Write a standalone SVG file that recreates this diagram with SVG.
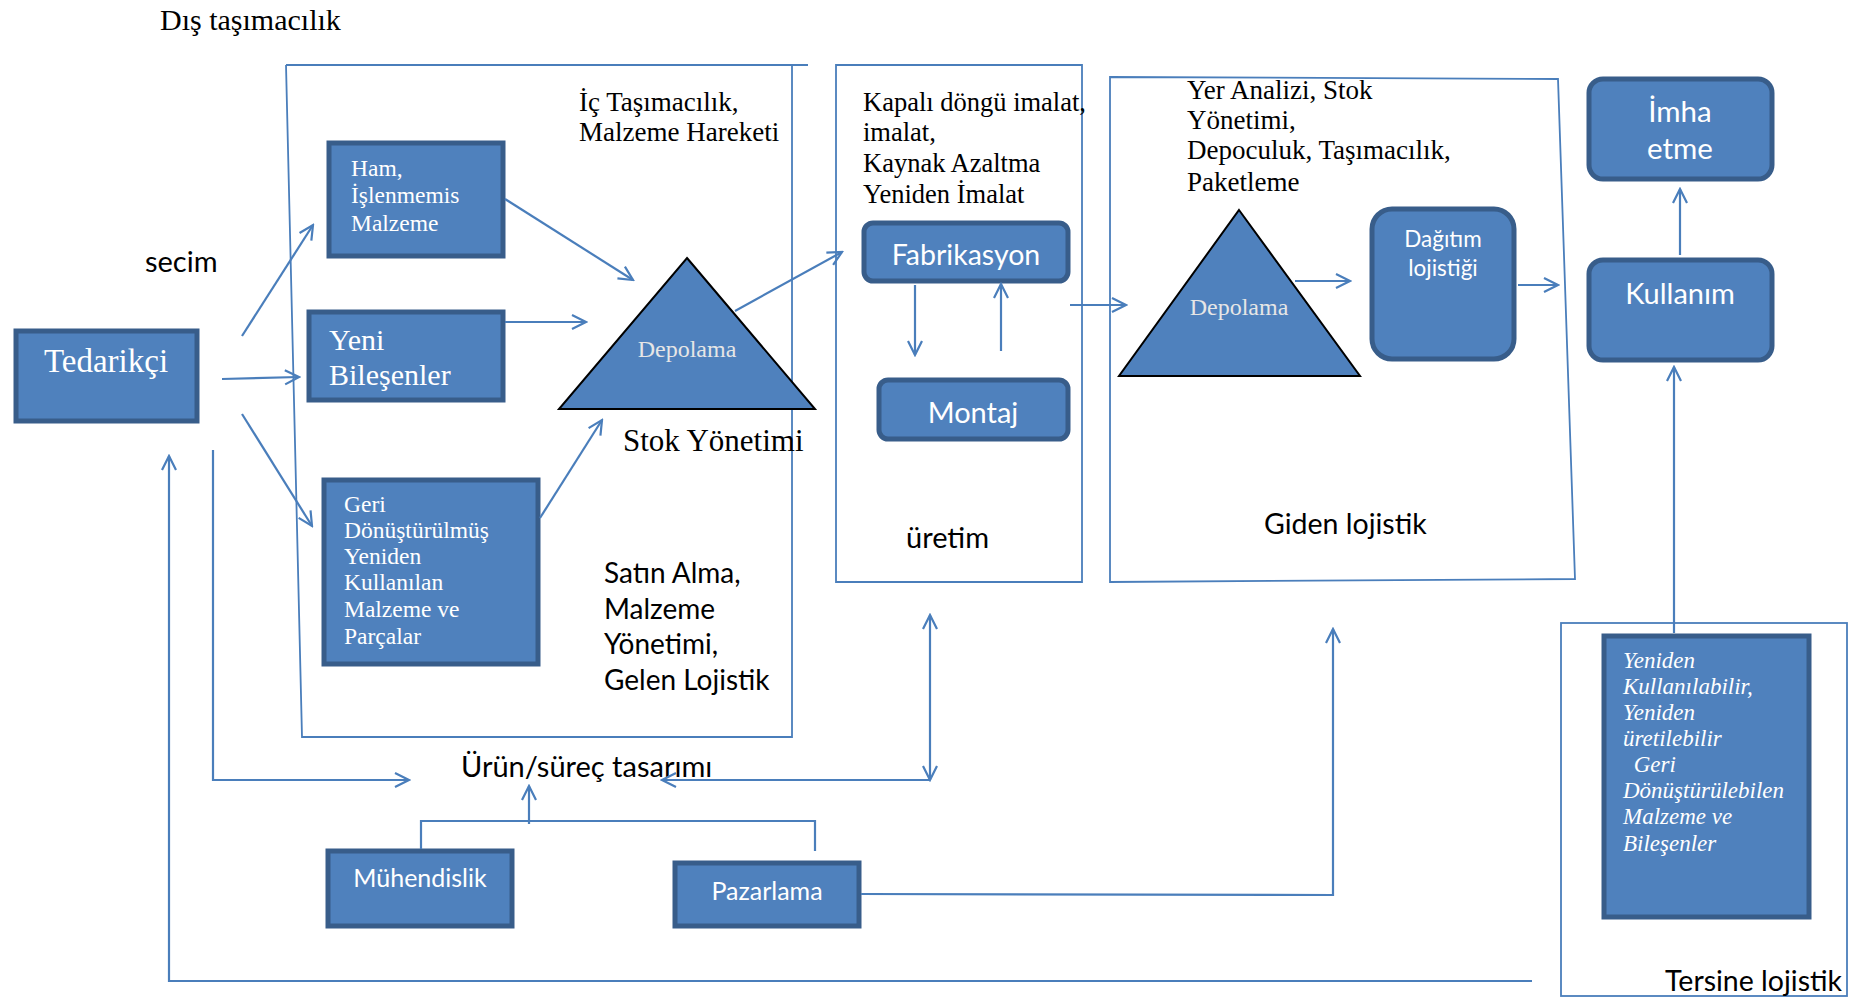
<svg xmlns="http://www.w3.org/2000/svg" width="1854" height="1000" viewBox="0 0 1854 1000">
<defs>
<marker id="ah" markerUnits="userSpaceOnUse" markerWidth="20" markerHeight="20" viewBox="0 0 20 20" refX="18" refY="10" orient="auto">
<path d="M4,3 L18,10 L4,17" fill="none" stroke="#4A7EBB" stroke-width="2.2"/>
</marker>
<marker id="ahs" markerUnits="userSpaceOnUse" markerWidth="20" markerHeight="20" viewBox="0 0 20 20" refX="2" refY="10" orient="auto">
<path d="M16,3 L2,10 L16,17" fill="none" stroke="#4A7EBB" stroke-width="2.2"/>
</marker>
</defs>
<style>
.frame{fill:none;stroke:#4A7EBB;stroke-width:1.8}
.box{fill:#4F81BD;stroke:#385D8A;stroke-width:5}
.tri{fill:#4F81BD;stroke:#000;stroke-width:2}
.ln{fill:none;stroke:#4A7EBB;stroke-width:2.2}
.arr{fill:none;stroke:#4A7EBB;stroke-width:2.2;marker-end:url(#ah)}
.serif{font-family:"Liberation Serif","Times New Roman",serif;fill:#000}
.sans{font-family:Lato,"Open Sans",sans-serif;fill:#000}
.w{fill:#fff}
.g{fill:#E6E6E6}
</style>
<rect width="1854" height="1000" fill="#fff"/>

<g id="frames">
<path class="frame" d="M286,65 L808,65 M286,65 L302,737 L792,737 L792,65"/>
<path class="frame" d="M836,65 L1082,65 L1082,582 L836,582 Z"/>
<path class="frame" d="M1110,77 L1558,79 L1575,579 L1110,582 Z"/>
<rect class="frame" x="1561" y="623" width="286" height="373"/>
</g>

<g id="labels">
<text class="serif" x="160" y="30" font-size="30">Dış taşımacılık</text>
<text class="sans" x="145" y="272" font-size="29">secim</text>
<text class="serif" x="579" y="111" font-size="27">İç Taşımacılık,</text>
<text class="serif" x="579" y="141" font-size="27">Malzeme Hareketi</text>
<text class="serif" x="623" y="451" font-size="31">Stok Yönetimi</text>
<text class="sans" font-size="28"><tspan x="604" y="583">Satın Alma,</tspan><tspan x="604" y="619">Malzeme</tspan><tspan x="604" y="654">Yönetimi,</tspan><tspan x="604" y="690">Gelen Lojistik</tspan></text>
<text class="serif" font-size="26.5"><tspan x="863" y="111">Kapalı döngü imalat,</tspan><tspan x="863" y="141">imalat,</tspan><tspan x="863" y="172">Kaynak Azaltma</tspan><tspan x="863" y="203">Yeniden İmalat</tspan></text>
<text class="sans" x="906" y="548" font-size="29">üretim</text>
<text class="serif" font-size="27"><tspan x="1187" y="99">Yer Analizi, Stok</tspan><tspan x="1187" y="129">Yönetimi,</tspan><tspan x="1187" y="159">Depoculuk, Taşımacılık,</tspan><tspan x="1187" y="191">Paketleme</tspan></text>
<text class="sans" x="1264" y="534" font-size="28.5">Giden lojistik</text>
<text class="sans" x="461" y="777" font-size="29">Ürün/süreç tasarımı</text>
<text class="sans" x="1665" y="991" font-size="28.5">Tersine lojistik</text>
</g>

<g id="tedarikci">
<rect class="box" x="16" y="331" width="181" height="90"/>
<text class="serif w" x="106" y="372" font-size="33" text-anchor="middle">Tedarikçi</text>
</g>
<g id="ham">
<rect class="box" x="329" y="143" width="174" height="113"/>
<text class="serif w" font-size="23.5"><tspan x="351" y="176">Ham,</tspan><tspan x="351" y="203">İşlenmemis</tspan><tspan x="351" y="231">Malzeme</tspan></text>
</g>
<g id="yeni">
<rect class="box" x="309" y="312" width="194" height="88"/>
<text class="serif w" font-size="30"><tspan x="329" y="350">Yeni</tspan><tspan x="329" y="385">Bileşenler</tspan></text>
</g>
<g id="geri">
<rect class="box" x="324" y="480" width="214" height="184"/>
<text class="serif w" font-size="23.5"><tspan x="344" y="512">Geri</tspan><tspan x="344" y="538">Dönüştürülmüş</tspan><tspan x="344" y="564">Yeniden</tspan><tspan x="344" y="590">Kullanılan</tspan><tspan x="344" y="617">Malzeme ve</tspan><tspan x="344" y="644">Parçalar</tspan></text>
</g>
<g id="depolama1">
<polygon class="tri" points="687,258 815,409 559,409"/>
<text class="serif g" x="687" y="357" font-size="24" text-anchor="middle">Depolama</text>
</g>
<g id="fabrikasyon">
<rect class="box" x="864" y="223" width="204" height="58" rx="9"/>
<text class="sans w" x="966" y="265" font-size="28.5" text-anchor="middle">Fabrikasyon</text>
</g>
<g id="montaj">
<rect class="box" x="879" y="380" width="189" height="59" rx="9"/>
<text class="sans w" x="973" y="423" font-size="29" text-anchor="middle">Montaj</text>
</g>
<g id="depolama2">
<polygon class="tri" points="1239,210 1360,376 1119,376"/>
<text class="serif g" x="1239" y="315" font-size="24" text-anchor="middle">Depolama</text>
</g>
<g id="dagitim">
<rect class="box" x="1372" y="209" width="142" height="150" rx="20"/>
<text class="sans w" font-size="22.5" text-anchor="middle"><tspan x="1443" y="247">Dağıtım</tspan><tspan x="1443" y="276">lojistiği</tspan></text>
</g>
<g id="imha">
<rect class="box" x="1589" y="79" width="183" height="100" rx="14"/>
<text class="sans w" font-size="29.5" text-anchor="middle"><tspan x="1680" y="122">İmha</tspan><tspan x="1680" y="159">etme</tspan></text>
</g>
<g id="kullanim">
<rect class="box" x="1589" y="260" width="183" height="100" rx="14"/>
<text class="sans w" x="1680" y="304" font-size="29" text-anchor="middle">Kullanım</text>
</g>
<g id="yeniden">
<rect class="box" x="1604" y="636" width="205" height="281"/>
<text class="serif w" font-size="23" font-style="italic"><tspan x="1623" y="668">Yeniden</tspan><tspan x="1623" y="694">Kullanılabilir,</tspan><tspan x="1623" y="720">Yeniden</tspan><tspan x="1623" y="746">üretilebilir</tspan><tspan x="1628" y="772"> Geri</tspan><tspan x="1623" y="798">Dönüştürülebilen</tspan><tspan x="1623" y="824">Malzeme ve</tspan><tspan x="1623" y="851">Bileşenler</tspan></text>
</g>
<g id="muhendislik">
<rect class="box" x="328" y="851" width="184" height="75"/>
<text class="sans w" x="420" y="887" font-size="25" text-anchor="middle">Mühendislik</text>
</g>
<g id="pazarlama">
<rect class="box" x="675" y="863" width="184" height="63"/>
<text class="sans w" x="767" y="900" font-size="25" text-anchor="middle">Pazarlama</text>
</g>

<g id="connectors">
<path class="arr" d="M242,336 L313,225"/>
<path class="arr" d="M222,379 L299,377"/>
<path class="arr" d="M242,414 L312,526"/>
<path class="arr" d="M505,199 L633,280"/>
<path class="arr" d="M505,322 L586,322"/>
<path class="arr" d="M540,518 L602,420"/>
<path class="arr" d="M735,311 L842,252"/>
<path class="arr" d="M915,285 L915,355"/>
<path class="arr" d="M1001,351 L1001,284"/>
<path class="arr" d="M1070,305 L1126,305"/>
<path class="arr" d="M1295,281 L1350,281"/>
<path class="arr" d="M1518,285 L1558,285"/>
<path class="arr" d="M1680,255 L1680,189"/>
<path class="arr" d="M1674,633 L1674,367"/>
<path class="arr" d="M213,450 L213,780 L409,780"/>
<path class="arr" d="M930,780 L930,615" marker-start="url(#ahs)"/>
<path class="arr" d="M930,780 L662,780"/>
<path class="ln" d="M421,849 L421,821 L815,821 L815,851"/>
<path class="arr" d="M529,824 L529,786"/>
<path class="arr" d="M861,894 L1333,895 L1333,629"/>
<path class="arr" d="M1532,981 L169,981 L169,456"/>
</g>
</svg>
